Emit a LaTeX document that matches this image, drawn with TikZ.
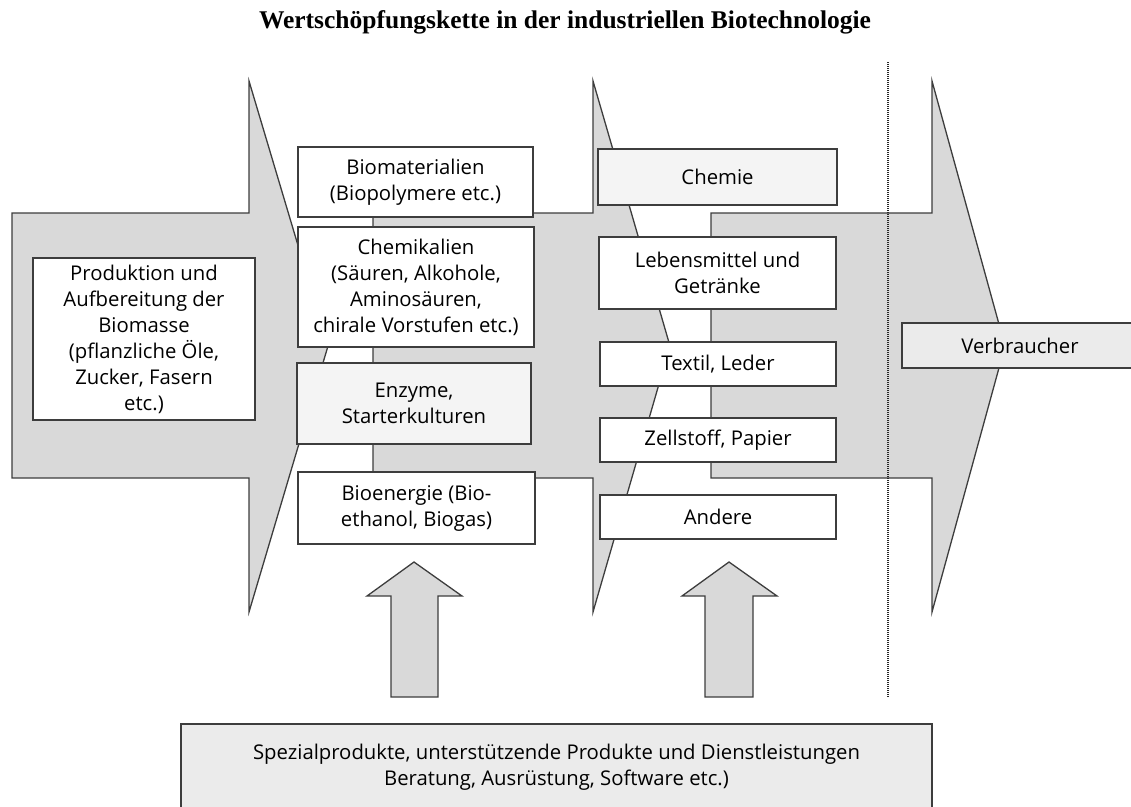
\documentclass[tikz,border=0pt]{standalone}
\usepackage{fontspec}
\setmainfont{Liberation Serif}
\newfontfamily\boxfont{Open Sans}
\usepackage{tikz}
\usetikzlibrary{positioning}

\definecolor{flowgray}{gray}{0.85}
\definecolor{edgegray}{gray}{0.24}
\definecolor{palegray}{gray}{0.955}
\definecolor{consgray}{gray}{0.92}

\tikzset{
  chevron/.style={draw=edgegray, fill=flowgray, line width=1.3pt, line join=miter},
  item/.style={draw=edgegray, fill=white, line width=1.3pt, align=center, inner sep=0pt,
    font=\boxfont\fontsize{20.3}{26}\selectfont},
}

\begin{document}
\begin{tikzpicture}[x=1pt, y=-1pt]
    \useasboundingbox (0,0) rectangle (1131,806);
    \clip (0,0) rectangle (1131,806);

    \node[font=\bfseries\fontsize{25.5}{30}\selectfont] (title) at (565,22) {Wertschöpfungskette in der industriellen Biotechnologie};

    % the three stages of the chain
    \draw[chevron] (12,213) -- (249,213) -- (249,81) -- (328,346) -- (249,612) -- (249,478) -- (12,478) -- cycle;
    \node[item, minimum width=222, minimum height=162] (biomasse) at (144,339)
        {Produktion und\\Aufbereitung der\\Biomasse\\(pflanzliche Öle,\\Zucker, Fasern\\etc.)};

    \draw[chevron] (373,213) -- (593,213) -- (593,81) -- (670,346) -- (593,612) -- (593,478) -- (373,478) -- cycle;
    \node[item, minimum width=235, minimum height=70] (biomat) at (415.5,182) {Biomaterialien\\(Biopolymere etc.)};
    \node[item, minimum width=236, minimum height=120] (chemik) at (416,287)
        {Chemikalien\\(Säuren, Alkohole,\\Aminosäuren,\\chirale Vorstufen etc.)};
    \node[item, fill=palegray, minimum width=234, minimum height=81] (enzyme) at (414,403.5) {Enzyme,\\Starterkulturen};
    \node[item, minimum width=237, minimum height=72] (bioenergie) at (416.5,508) {Bioenergie (Bio-\\ethanol, Biogas)};

    \draw[chevron] (711,213) -- (932,213) -- (932,81) -- (1005,346) -- (932,612) -- (932,478) -- (711,478) -- cycle;
    \node[item, fill=palegray, minimum width=239, minimum height=56] (chemie) at (717.5,177) {Chemie};
    \node[item, minimum width=237, minimum height=72] (lebensm) at (717.5,273) {Lebensmittel und\\Getränke};
    \node[item, minimum width=236, minimum height=44] (textil) at (718,364) {Textil, Leder};
    \node[item, minimum width=236, minimum height=44] (zellstoff) at (718,440) {Zellstoff, Papier};
    \node[item, minimum width=236, minimum height=44] (andere) at (718,517) {Andere};

    \draw[black!85, line width=1.7pt, dash pattern=on 1pt off 1pt] (888,62) -- (888,698);

    \node[item, fill=consgray, minimum width=236, minimum height=45] (verbraucher) at (1020,345.5) {Verbraucher};

    % support from below
    \draw[chevron] (391,697) -- (391,596) -- (367,596) -- (414,562) -- (462,596) -- (438,596) -- (438,697) -- cycle;
    \draw[chevron] (705,697) -- (705,596) -- (682,596) -- (729,562) -- (777,596) -- (753,596) -- (753,697) -- cycle;
    \node[item, fill=consgray, minimum width=751, minimum height=86] (support) at (556.5,767)
        {Spezialprodukte, unterstützende Produkte und Dienstleistungen\\Beratung, Ausrüstung, Software etc.)};
\end{tikzpicture}
\end{document}
